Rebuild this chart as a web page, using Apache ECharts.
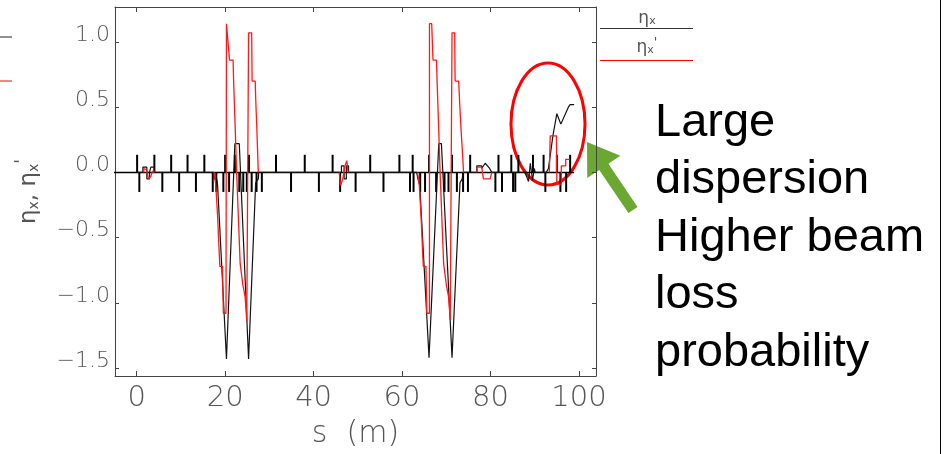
<!DOCTYPE html>
<html>
<head>
<meta charset="utf-8">
<script src="https://cdn.jsdelivr.net/npm/echarts@6/dist/echarts.min.js"></script>
<style>
  html, body { margin: 0; padding: 0; background: #fff; }
  #chart { width: 946px; height: 454px; }
</style>
</head>
<body>
<div id="chart"></div>
<script>
// Horizontal dispersion along the beamline, s in metres.
const xTickValues = [0, 20, 40, 60, 80, 100];
const yTickValues = [-1.5, -1.0, -0.5, 0.0, 0.5, 1.0];

// eta_x (black)
const etaX = [
  [0, 0], [1.4, 0], [1.4, 0.04], [2.3, 0.04], [2.3, -0.05], [2.9, -0.05], [2.9, 0],
  [3.2, 0], [3.2, 0.04], [4.0, 0.04], [4.0, 0],
  [17.4, 0], [17.6, -0.05], [18.1, -0.05], [18.3, -0.1], [20.3, -1.43],
  [22.2, 0.22], [23.2, 0.22], [25.3, -1.43], [26.9, -0.08], [27.5, -0.05], [27.6, 0],
  [46.3, 0], [46.3, 0.05], [46.9, 0.05], [46.9, -0.05], [47.4, -0.05], [47.4, 0.05],
  [47.9, 0.05], [47.9, 0],
  [63.3, 0], [63.6, -0.05], [64.0, -0.1], [66.1, -1.42], [68.3, 0.22], [68.9, 0.22],
  [71.3, -1.42], [73.1, -0.08], [73.6, -0.05], [73.8, 0],
  [76.9, 0], [76.9, 0.05], [78.0, 0.05], [78.0, 0.03], [78.8, 0.07], [79.8, 0.03], [80.3, 0],
  [87.8, 0], [88.6, -0.07], [89.0, 0.07], [89.5, -0.06], [89.9, 0.03], [90.1, 0],
  [92.6, 0], [93.1, 0.03], [94.1, 0.28], [95.0, 0.45], [95.9, 0.37], [97.6, 0.50],
  [98.0, 0.52], [98.9, 0.52]
];

// eta_x' (red)
const etaXPrime = [
  [0, 0], [1.6, 0], [1.6, 0.03], [2.2, 0.02], [2.7, -0.05], [3.2, -0.03], [3.6, 0.01], [4.0, 0],
  [17.5, 0], [17.9, -0.1], [18.3, -0.34], [18.8, -0.72], [19.4, -0.72], [19.6, -1.08],
  [20.2, -1.08], [20.3, 1.14], [20.7, 1.14], [21.0, 0.86], [21.8, 0.86], [21.9, 0.72],
  [22.2, 0.42], [22.6, 0], [23.4, -0.70], [24.0, -0.86], [24.5, -0.95], [24.9, -1.14],
  [25.3, -1.14], [25.3, 1.07], [26.0, 1.07], [26.1, 0.70], [26.8, 0.70], [26.9, 0.58],
  [27.2, 0.30], [27.5, 0],
  [45.8, 0], [46.1, -0.10], [46.6, -0.05], [47.1, 0.05], [47.5, 0.09], [47.8, 0],
  [63.5, 0], [63.9, -0.1], [64.3, -0.34], [64.8, -0.72], [65.4, -0.72], [65.6, -1.08],
  [66.2, -1.08], [66.2, 1.14], [66.7, 1.14], [67.0, 0.86], [67.8, 0.86], [67.9, 0.72],
  [68.2, 0.42], [68.6, 0], [69.4, -0.70], [70.0, -0.86], [70.5, -0.95], [70.9, -1.13],
  [71.3, -1.13], [71.3, 1.07], [71.9, 1.07], [72.0, 0.70], [72.8, 0.70], [73.0, 0.55],
  [73.3, 0.35], [73.7, 0.13], [73.9, 0],
  [76.9, 0], [77.0, 0.04], [78.0, 0.04], [78.4, -0.05], [79.9, -0.05], [80.3, 0],
  [93.3, 0], [93.5, 0.28], [94.9, 0.28], [95.0, -0.09], [96.0, -0.09], [96.0, 0.05],
  [97.0, 0.05], [97.0, 0.10], [97.9, 0.10]
];

// Magnet layout: element centres (m) drawn above / below the beamline
const upperElements = [0.1, 4.0, 7.8, 11.5, 15.3, 20.0, 22.2, 25.4, 31.5, 38.0, 44.3,
  52.8, 59.4, 62.4, 66.1, 71.3, 75.4, 81.8, 84.7, 86.3, 89.6, 92.0, 95.0, 98.0];
const lowerElements = [0.6, 5.8, 9.6, 13.4, 17.2, 18.0, 19.6, 20.9, 23.2, 24.1, 24.9,
  26.0, 27.1, 28.3, 34.9, 41.2, 46.0, 49.5, 55.8, 61.8, 62.6, 64.1, 65.2, 67.7, 69.6,
  70.5, 72.4, 73.8, 74.9, 81.1, 82.6, 85.1, 85.6, 92.4, 95.8, 97.1];
const upperElementHeight = 0.135;
const lowerElementHeight = -0.15;
const beamline = [[-6, 0], [98.9, 0]];

const X_MIN = -4.9, X_MAX = 103.85, Y_MIN = -1.561, Y_MAX = 1.268;

const tickFont = 'DejaVu Sans';
const frameColor = '#444';
const labelColor = '#555';

const elementData = upperElements.map(s => [s, upperElementHeight])
  .concat(lowerElements.map(s => [s, lowerElementHeight]));

// Leave the red trace out where it just runs along zero, so the beamline stays black.
function breakZeroRuns(points) {
  const out = [];
  points.forEach((p, i) => {
    const prev = points[i - 1];
    if (prev && prev[1] === 0 && p[1] === 0) out.push('-');
    out.push(p);
  });
  return out;
}

function frameAxis(extra) {
  return Object.assign({
    type: 'value',
    axisLine: { show: true, onZero: false, lineStyle: { color: frameColor, width: 1 } },
    axisTick: { show: true, inside: true, length: 5, lineStyle: { color: frameColor, width: 1 } },
    splitLine: { show: false },
    axisLabel: { show: false }
  }, extra);
}

const yLabel = v => (v < 0 ? '\u2212' : '') + Math.abs(v).toFixed(1);

// Arrow shape pointing at the high-dispersion region
function arrowPolygon(tip, tail, headLen, headHalf, shaftHalf) {
  const dx = tail[0] - tip[0], dy = tail[1] - tip[1];
  const len = Math.hypot(dx, dy);
  const ux = dx / len, uy = dy / len, nx = -uy, ny = ux;
  const bx = tip[0] + ux * headLen, by = tip[1] + uy * headLen;
  return [
    tip,
    [bx + nx * headHalf, by + ny * headHalf],
    [bx + nx * shaftHalf, by + ny * shaftHalf],
    [tail[0] + nx * shaftHalf, tail[1] + ny * shaftHalf],
    [tail[0] - nx * shaftHalf, tail[1] - ny * shaftHalf],
    [bx - nx * shaftHalf, by - ny * shaftHalf],
    [bx - nx * headHalf, by - ny * headHalf]
  ];
}

const chart = echarts.init(document.getElementById('chart'), null, { renderer: 'canvas' });

const legendRich = {
  g: { fontFamily: tickFont, fontSize: 17, fill: labelColor, lineHeight: 20, verticalAlign: 'bottom' },
  s: { fontFamily: tickFont, fontSize: 11, fill: labelColor, lineHeight: 11, verticalAlign: 'bottom' },
  p: { fontFamily: tickFont, fontSize: 13, fill: labelColor, lineHeight: 13, verticalAlign: 'top' }
};

chart.setOption({
  animation: false,
  backgroundColor: '#fff',
  grid: { left: 115, top: 7, width: 481, height: 370 },
  xAxis: [
    frameAxis({
      position: 'bottom', min: X_MIN, max: X_MAX,
      axisTick: { show: true, inside: true, length: 5, customValues: xTickValues, lineStyle: { color: frameColor } },
      axisLabel: {
        show: true, customValues: xTickValues, fontFamily: tickFont, fontWeight: 200,
        fontSize: 29, color: labelColor, margin: 8
      },
      name: 's  (m)', nameLocation: 'middle', nameGap: 43,
      nameTextStyle: { fontFamily: tickFont, fontWeight: 200, fontSize: 30, color: labelColor }
    }),
    frameAxis({
      position: 'top', min: X_MIN, max: X_MAX,
      axisTick: { show: true, inside: true, length: 5, customValues: xTickValues, lineStyle: { color: frameColor } }
    })
  ],
  yAxis: [
    frameAxis({
      position: 'left', min: Y_MIN, max: Y_MAX,
      axisTick: { show: true, inside: true, length: 4, customValues: yTickValues, lineStyle: { color: frameColor } },
      axisLabel: {
        show: true, customValues: yTickValues, formatter: yLabel, fontFamily: tickFont,
        fontWeight: 200, fontSize: 22, lineHeight: 14, color: labelColor, margin: 5, verticalAlign: 'bottom'
      },
      name: '{g|η}{s|x}{g|, η}{s|x}{p|\'}',
      nameLocation: 'middle', nameRotate: 90, nameGap: 74,
      nameTextStyle: {
        rich: {
          g: { fontFamily: tickFont, fontSize: 23, color: labelColor, lineHeight: 27, verticalAlign: 'bottom' },
          s: { fontFamily: tickFont, fontSize: 14, color: labelColor, lineHeight: 14, verticalAlign: 'bottom' },
          p: { fontFamily: tickFont, fontSize: 17, color: labelColor, lineHeight: 17, verticalAlign: 'top' }
        }
      }
    }),
    frameAxis({
      position: 'right', min: Y_MIN, max: Y_MAX,
      axisTick: { show: true, inside: true, length: 4, customValues: yTickValues, lineStyle: { color: frameColor } }
    })
  ],
  series: [
    {
      name: 'beamline', type: 'line', data: beamline, symbol: 'none', silent: true,
      lineStyle: { color: '#000', width: 1.5 }, clip: true
    },
    {
      name: 'elements', type: 'custom', data: elementData, silent: true, clip: true,
      encode: { x: 0, y: 1 },
      renderItem: (params, api) => {
        const s = api.value(0), h = api.value(1);
        const a = api.coord([s, 0]), b = api.coord([s, h]);
        return {
          type: 'line',
          shape: { x1: a[0], y1: a[1], x2: b[0], y2: b[1] },
          style: { stroke: '#000', lineWidth: 2 }
        };
      }
    },
    {
      name: 'ηx', type: 'line', data: etaX, symbol: 'none', silent: true,
      lineStyle: { color: '#111', width: 1.2 }
    },
    {
      name: "ηx'", type: 'line', data: breakZeroRuns(etaXPrime), symbol: 'none', silent: true,
      connectNulls: false, lineStyle: { color: '#ff1a1a', width: 1.3 }
    }
  ],
  graphic: [
    // legend block
    { type: 'text', x: 647, y: 17, silent: true,
      style: { text: '{g|η}{s|x}', rich: legendRich, align: 'center', verticalAlign: 'middle' } },
    { type: 'line', shape: { x1: 600, y1: 28.5, x2: 693, y2: 28.5 }, style: { stroke: '#333', lineWidth: 1 }, silent: true },
    { type: 'text', x: 647, y: 46, silent: true,
      style: { text: '{g|η}{s|x}{p|\'}', rich: legendRich, align: 'center', verticalAlign: 'middle' } },
    { type: 'line', shape: { x1: 600, y1: 60.5, x2: 693, y2: 60.5 }, style: { stroke: '#ff0000', lineWidth: 1 }, silent: true },
    // partial strokes at the left edge
    { type: 'line', shape: { x1: 0, y1: 37, x2: 12, y2: 37 }, style: { stroke: '#222', lineWidth: 1 }, silent: true },
    { type: 'line', shape: { x1: 0, y1: 81, x2: 12, y2: 81 }, style: { stroke: '#ff0000', lineWidth: 1 }, silent: true },
    // right border
    { type: 'line', shape: { x1: 940.5, y1: 0, x2: 940.5, y2: 454 }, style: { stroke: '#000', lineWidth: 1 }, silent: true },
    // highlight ring
    { type: 'ellipse', shape: { cx: 548, cy: 124, rx: 37, ry: 61 },
      style: { fill: null, stroke: '#ff0000', lineWidth: 3 }, silent: true },
    // arrow
    { type: 'polygon', shape: { points: arrowPolygon([587, 142], [633, 210], 30, 20, 5.5) },
      style: { fill: '#6aa832' }, silent: true },
    // annotation
    { type: 'text', x: 655, y: 94,
      style: {
        text: 'Large\ndispersion\nHigher beam\nloss\nprobability',
        fontFamily: 'Liberation Sans', fontSize: 47, lineHeight: 57.5, fill: '#000',
        verticalAlign: 'top', align: 'left'
      }, silent: true }
  ]
});
</script>
</body>
</html>
